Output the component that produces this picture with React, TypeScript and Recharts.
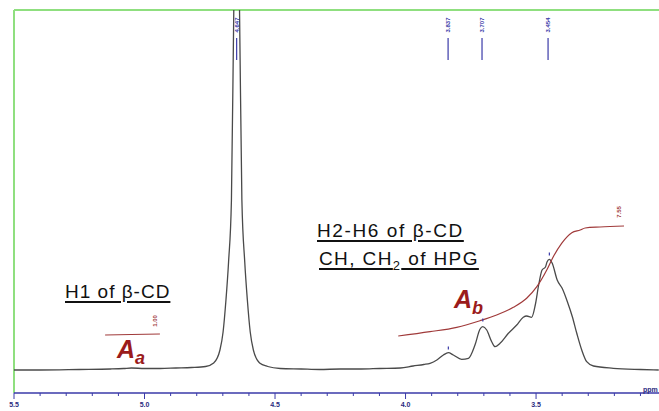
import {
  ComposedChart,
  Line,
  Scatter,
  XAxis,
  YAxis,
  ReferenceLine,
} from 'recharts'

// chemical shift (ppm) / intensity
const SPECTRUM_PPM = [
  5.5, 5.4, 5.25, 5.13, 5.08, 5.05, 5.0, 4.94, 4.88, 4.82, 4.766, 4.735, 4.711, 4.699, 4.688,
  4.678, 4.667, 4.658, 4.647, 4.636, 4.627, 4.616, 4.606, 4.595, 4.583, 4.559, 4.528, 4.48,
  4.4, 4.33, 4.25, 4.17, 4.1, 4.02, 3.971, 3.93, 3.906, 3.88, 3.855, 3.836, 3.817, 3.785,
  3.759, 3.734, 3.715, 3.704, 3.689, 3.67, 3.657, 3.638, 3.606, 3.574, 3.549, 3.536, 3.517,
  3.503, 3.49, 3.477, 3.464, 3.458, 3.449, 3.438, 3.419, 3.4, 3.38, 3.361, 3.344, 3.325, 3.306,
  3.28, 3.204, 3.1, 3.03,
]
const SPECTRUM_INT = [
  2, 2, 2.5, 3, 3.5, 4, 3.5, 3.5, 4, 4.5, 5.5, 9, 22, 40, 72,
  110, 172, 362, 520, 362, 172, 110, 72, 40, 22, 9, 5.5, 3.5,
  3, 2.5, 3, 3, 3.5, 4, 6, 7.5, 8.7, 12, 17, 19.3, 17, 12.7,
  13.7, 27, 42.7, 45.3, 42, 30.3, 25.3, 28.7, 38.7, 47, 54.7, 56, 54.7,
  67, 87, 102, 105, 110, 112.7, 108.7, 92, 83.7, 70.3, 55.3, 38.7, 22, 10.3,
  6, 3.7, 2.5, 2,
]

// integral traces
const INT_A_PPM = [5.151, 5.05, 4.941]
const INT_A_VAL = [37, 37.5, 38]
const INT_B_PPM = [
  4.028, 3.906, 3.804, 3.715, 3.651, 3.587, 3.536, 3.497, 3.459, 3.434, 3.402, 3.363, 3.331,
  3.312, 3.255, 3.163,
]
const INT_B_VAL = [36, 40.3, 44.7, 51.3, 57, 64.7, 73.7, 85.3, 102, 115.3, 128.7, 139.3, 142, 144, 145, 146]
const INTEGRAL_LABEL_PPM = [4.96, 3.182]
const INTEGRAL_LABEL_VAL = [51, 160]
const INTEGRAL_LABELS = ['1.00', '7.55']

// peak picking
const PEAK_PPM = [4.647, 3.837, 3.707, 3.454]
const PEAK_LABELS = ['4.647', '3.837', '3.707', '3.454']
const PEAK_MARK_PPM = [3.836, 3.704, 3.449]
const PEAK_MARK_VAL = [24, 52, 118]

const X_TICKS = [5.5, 5.4, 5.3, 5.2, 5.1, 5.0, 4.9, 4.8, 4.7, 4.6, 4.5, 4.4, 4.3, 4.2, 4.1, 4.0, 3.9, 3.8, 3.7, 3.6, 3.5, 3.4, 3.3, 3.2, 3.1]

const spectrum = SPECTRUM_PPM.map((ppm, i) => ({ ppm, v: SPECTRUM_INT[i] }))
const integralA = INT_A_PPM.map((ppm, i) => ({ ppm, v: INT_A_VAL[i] }))
const integralB = INT_B_PPM.map((ppm, i) => ({ ppm, v: INT_B_VAL[i] }))
const integralLabels = INTEGRAL_LABEL_PPM.map((ppm, i) => ({ ppm, v: INTEGRAL_LABEL_VAL[i], label: INTEGRAL_LABELS[i] }))
const peaks = PEAK_PPM.map((ppm, i) => ({ ppm, v: 362, label: PEAK_LABELS[i] }))
const peakMarks = PEAK_MARK_PPM.map((ppm, i) => ({ ppm, v: PEAK_MARK_VAL[i] }))

const AXIS_BLUE = '#3a3aa8'
const INT_RED = '#a03a3a'
const LABEL_RED = '#9b1b1b'

function PpmTick({ x, y, payload }: any) {
  const v = payload.value
  const major = Math.abs(v * 2 - Math.round(v * 2)) < 1e-6
  return (
    <g>
      <line x1={x} x2={x} y1={y} y2={y + (major ? 6 : 3)} stroke={AXIS_BLUE} strokeWidth={1} />
      {major && (
        <text x={x} y={y + 14} textAnchor="middle" fontSize={7} fontWeight="bold" fill="#2a2a80" fontFamily="Liberation Sans, Arial">
          {v.toFixed(1)}
        </text>
      )}
    </g>
  )
}

function PeakLabel({ cx, cy, payload }: any) {
  return (
    <g>
      <text
        x={cx}
        y={cy + 15}
        transform={`rotate(-90 ${cx} ${cy + 15})`}
        textAnchor="middle"
        dominantBaseline="central"
        fontSize={6}
        fontWeight="bold"
        fill={AXIS_BLUE}
        fontFamily="Liberation Sans, Arial"
      >
        {payload.label}
      </text>
      <line x1={cx} x2={cx} y1={cy + 28} y2={cy + 50} stroke={AXIS_BLUE} strokeWidth={1.2} />
    </g>
  )
}

function PeakMark({ cx, cy }: any) {
  return <line x1={cx} x2={cx} y1={cy - 1.5} y2={cy + 1.5} stroke={AXIS_BLUE} strokeWidth={1.2} />
}

function IntegralLabel({ cx, cy, payload }: any) {
  return (
    <text
      x={cx}
      y={cy}
      transform={`rotate(-90 ${cx} ${cy})`}
      textAnchor="middle"
      dominantBaseline="central"
      fontSize={6}
      fontWeight="bold"
      fill={INT_RED}
      fontFamily="Liberation Sans, Arial"
    >
      {payload.label}
    </text>
  )
}

const textStyle: React.CSSProperties = {
  position: 'absolute',
  fontFamily: '"Liberation Sans", Arial, sans-serif',
  fontSize: 19,
  color: '#111',
  textDecoration: 'underline',
  textDecorationThickness: 1.5,
  textUnderlineOffset: 3,
  whiteSpace: 'nowrap',
  lineHeight: '20px',
}

const areaStyle: React.CSSProperties = {
  position: 'absolute',
  fontFamily: '"Liberation Sans", Arial, sans-serif',
  fontWeight: 'bold',
  fontStyle: 'italic',
  fontSize: 25,
  color: LABEL_RED,
  whiteSpace: 'nowrap',
  lineHeight: '25px',
}

export default function App() {
  return (
    <div style={{ position: 'absolute', left: 0, top: 0, width: 659, height: 411, background: '#fff' }}>
      <ComposedChart width={659} height={411} margin={{ top: 10, right: 0, bottom: 0, left: 14 }}>
        <XAxis
          type="number"
          dataKey="ppm"
          domain={[3.029, 5.5]}
          reversed
          allowDataOverflow
          ticks={X_TICKS}
          interval={0}
          tick={<PpmTick />}
          tickLine={false}
          tickSize={0}
          tickMargin={0}
          height={18}
          axisLine={{ stroke: AXIS_BLUE, strokeWidth: 1.5 }}
        />
        <YAxis type="number" dataKey="v" domain={[-21, 362]} allowDataOverflow hide />
        <ReferenceLine x={5.5} stroke="#8fdf7f" strokeWidth={2} />
        <ReferenceLine y={362} stroke="#8fdf7f" strokeWidth={2} />
        <Line
          data={spectrum}
          dataKey="v"
          type="monotone"
          stroke="#4a4a4a"
          strokeWidth={1.3}
          dot={false}
          isAnimationActive={false}
        />
        <Line
          data={integralA}
          dataKey="v"
          type="monotone"
          stroke={INT_RED}
          strokeWidth={1.2}
          dot={false}
          isAnimationActive={false}
        />
        <Line
          data={integralB}
          dataKey="v"
          type="monotone"
          stroke={INT_RED}
          strokeWidth={1.2}
          dot={false}
          isAnimationActive={false}
        />
        <Scatter data={peaks} dataKey="v" shape={<PeakLabel />} isAnimationActive={false} />
        <Scatter data={peakMarks} dataKey="v" shape={<PeakMark />} isAnimationActive={false} />
        <Scatter data={integralLabels} dataKey="v" shape={<IntegralLabel />} isAnimationActive={false} />
      </ComposedChart>

      <div style={{ ...textStyle, left: 65, top: 282, letterSpacing: 1 }}>H1 of β-CD</div>
      <div style={{ ...textStyle, left: 317, top: 221, letterSpacing: 1.6 }}>H2-H6 of β-CD</div>
      <div style={{ ...textStyle, left: 319, top: 249, letterSpacing: 1.4 }}>
        CH, CH<sub style={{ fontSize: 13, lineHeight: 0 }}>2</sub> of HPG
      </div>

      <div style={{ ...areaStyle, left: 117, top: 337 }}>
        A<sub style={{ fontSize: 18, lineHeight: 0 }}>a</sub>
      </div>
      <div style={{ ...areaStyle, left: 454, top: 287 }}>
        A<sub style={{ fontSize: 18, lineHeight: 0 }}>b</sub>
      </div>

      <div
        style={{
          position: 'absolute',
          left: 643,
          top: 386,
          fontSize: 7,
          fontWeight: 'bold',
          color: '#2a2a80',
          fontFamily: '"Liberation Sans", Arial, sans-serif',
        }}
      >
        ppm
      </div>
    </div>
  )
}
